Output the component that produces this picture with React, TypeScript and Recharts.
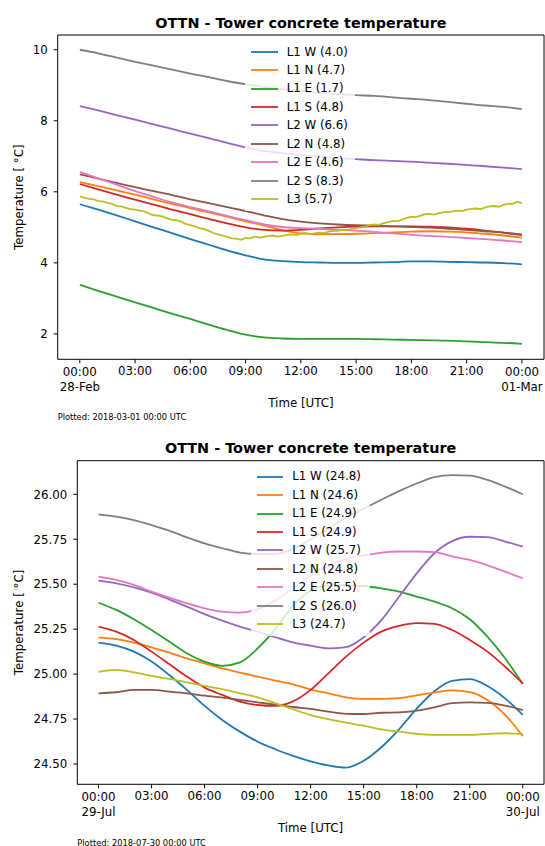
import React from 'react';
import { LineChart, Line, XAxis, YAxis, ReferenceArea, Legend } from 'recharts';

const FONT = '"DejaVu Sans", Verdana, sans-serif';
const COLORS = ['#1f77b4', '#ff7f0e', '#2ca02c', '#d62728', '#9467bd', '#8c564b', '#e377c2', '#7f7f7f', '#bcbd22'];
const SERIES_NAMES = ['L1 W', 'L1 N', 'L1 E', 'L1 S', 'L2 W', 'L2 N', 'L2 E', 'L2 S', 'L3'];
const X_TICKS = [0, 3, 6, 9, 12, 15, 18, 21, 24];
const X_TICK_LABELS = ['00:00', '03:00', '06:00', '09:00', '12:00', '15:00', '18:00', '21:00', '00:00'];
const X_DOMAIN = [-1.2, 25.2];

// ---------- Chart 1: 28 Feb 2018 ----------
const FEB_TITLE = 'OTTN - Tower concrete temperature';
const FEB_DATES = ['28-Feb', '01-Mar'];
const FEB_PLOTTED = 'Plotted: 2018-03-01 00:00 UTC';
const FEB_LEGEND_VALUES = ['4.0', '4.7', '1.7', '4.8', '6.6', '4.8', '4.6', '8.3', '5.7'];
const FEB_Y_TICKS = [2, 4, 6, 8, 10];
const FEB_Y_DOMAIN = [1.285, 10.415];
const FEB_HOURS = [0, 1, 2, 3, 4, 5, 6, 7, 8, 9, 10, 11, 12, 13, 14, 15, 16, 17, 18, 19, 20, 21, 22, 23, 24];
const FEB_L1W = [5.65, 5.50, 5.34, 5.17, 5.00, 4.84, 4.67, 4.51, 4.35, 4.21, 4.10, 4.05, 4.02, 4.01, 4.00, 4.00, 4.01, 4.02, 4.04, 4.04, 4.03, 4.02, 4.01, 3.99, 3.96];
const FEB_L1N = [6.27, 6.16, 6.04, 5.92, 5.79, 5.66, 5.54, 5.42, 5.30, 5.17, 5.05, 4.92, 4.83, 4.81, 4.81, 4.82, 4.84, 4.86, 4.88, 4.89, 4.88, 4.86, 4.82, 4.77, 4.71];
const FEB_L1E = [3.38, 3.21, 3.05, 2.89, 2.73, 2.57, 2.42, 2.26, 2.11, 1.98, 1.90, 1.87, 1.86, 1.86, 1.86, 1.86, 1.85, 1.84, 1.83, 1.82, 1.81, 1.79, 1.77, 1.75, 1.72];
const FEB_L1S = [6.22, 6.07, 5.92, 5.78, 5.64, 5.50, 5.37, 5.24, 5.11, 5.00, 4.93, 4.91, 4.93, 4.97, 5.00, 5.02, 5.03, 5.03, 5.03, 5.02, 5.00, 4.96, 4.91, 4.85, 4.78];
const FEB_L2W = [8.41, 8.29, 8.16, 8.03, 7.90, 7.77, 7.64, 7.51, 7.38, 7.25, 7.15, 7.09, 7.04, 7.00, 6.95, 6.92, 6.89, 6.87, 6.85, 6.82, 6.79, 6.76, 6.72, 6.68, 6.64];
const FEB_L2N = [6.49, 6.37, 6.25, 6.13, 6.02, 5.91, 5.79, 5.68, 5.57, 5.46, 5.34, 5.23, 5.16, 5.11, 5.08, 5.06, 5.05, 5.03, 5.01, 4.99, 4.96, 4.93, 4.89, 4.85, 4.80];
const FEB_L2E = [6.56, 6.38, 6.20, 6.02, 5.86, 5.70, 5.57, 5.45, 5.32, 5.20, 5.08, 5.01, 4.98, 4.96, 4.93, 4.91, 4.87, 4.83, 4.79, 4.76, 4.73, 4.70, 4.67, 4.63, 4.58];
const FEB_L2S = [10.0, 9.90, 9.78, 9.66, 9.55, 9.44, 9.33, 9.23, 9.12, 9.03, 8.95, 8.89, 8.84, 8.79, 8.75, 8.72, 8.70, 8.66, 8.62, 8.58, 8.53, 8.48, 8.43, 8.39, 8.33];
const FEB_L3_HOURS = [
  0, 0.25, 0.5, 0.75, 1, 1.25, 1.5, 1.75, 2, 2.25, 2.5, 2.75, 3, 3.25, 3.5, 3.75, 4, 4.25, 4.5, 4.75,
  5, 5.25, 5.5, 5.75, 6, 6.25, 6.5, 6.75, 7, 7.25, 7.5, 7.75, 8, 8.25, 8.5, 8.75, 9, 9.25, 9.5, 9.75,
  10, 10.25, 10.5, 10.75, 11, 11.25, 11.5, 11.75, 12, 12.25, 12.5, 12.75, 13, 13.25, 13.5, 13.75,
  14, 14.25, 14.5, 14.75, 15, 15.25, 15.5, 15.75, 16, 16.25, 16.5, 16.75, 17, 17.25, 17.5, 17.75,
  18, 18.25, 18.5, 18.75, 19, 19.25, 19.5, 19.75, 20, 20.25, 20.5, 20.75, 21, 21.25, 21.5, 21.75,
  22, 22.25, 22.5, 22.75, 23, 23.25, 23.5, 23.75, 24,
];
const FEB_L3 = [
  5.87, 5.83, 5.80, 5.79, 5.74, 5.73, 5.69, 5.66, 5.60, 5.59, 5.55, 5.51, 5.50, 5.47, 5.45, 5.39, 5.34, 5.33, 5.30, 5.25,
  5.22, 5.20, 5.16, 5.10, 5.06, 5.03, 4.98, 4.95, 4.90, 4.84, 4.80, 4.77, 4.73, 4.69, 4.68, 4.65, 4.70, 4.69, 4.74, 4.71,
  4.73, 4.76, 4.77, 4.74, 4.76, 4.79, 4.80, 4.78, 4.82, 4.84, 4.81, 4.83, 4.85, 4.84, 4.88, 4.90,
  4.90, 4.93, 4.92, 4.96, 4.98, 5.00, 5.02, 5.06, 5.08, 5.07, 5.12, 5.15, 5.18, 5.17, 5.22, 5.27,
  5.30, 5.29, 5.33, 5.37, 5.38, 5.36, 5.40, 5.43, 5.43, 5.45, 5.47, 5.46, 5.50, 5.52, 5.53, 5.51,
  5.56, 5.59, 5.60, 5.58, 5.63, 5.66, 5.66, 5.72, 5.68,
];

// ---------- Chart 2: 29 Jul 2018 ----------
const JUL_TITLE = 'OTTN - Tower concrete temperature';
const JUL_DATES = ['29-Jul', '30-Jul'];
const JUL_PLOTTED = 'Plotted: 2018-07-30 00:00 UTC';
const JUL_LEGEND_VALUES = ['24.8', '24.6', '24.9', '24.9', '25.7', '24.8', '25.5', '26.0', '24.7'];
const JUL_Y_TICKS = [24.5, 24.75, 25.0, 25.25, 25.5, 25.75, 26.0];
const JUL_Y_DOMAIN = [24.387, 26.187];
const JUL_HOURS = [0, 1, 2, 3, 4, 5, 6, 7, 8, 9, 10, 11, 12, 13, 14, 15, 16, 17, 18, 19, 20, 21, 22, 23, 24];
const JUL_L1W = [25.175, 25.158, 25.125, 25.07, 24.995, 24.912, 24.823, 24.745, 24.68, 24.624, 24.582, 24.545, 24.515, 24.492, 24.48, 24.518, 24.593, 24.693, 24.808, 24.905, 24.962, 24.972, 24.934, 24.865, 24.773];
const JUL_L1N = [25.203, 25.195, 25.175, 25.149, 25.119, 25.088, 25.06, 25.032, 25.008, 24.986, 24.964, 24.943, 24.914, 24.893, 24.871, 24.862, 24.862, 24.866, 24.882, 24.897, 24.91, 24.90, 24.856, 24.773, 24.655];
const JUL_L1E = [25.397, 25.357, 25.305, 25.245, 25.181, 25.116, 25.069, 25.046, 25.065, 25.143, 25.25, 25.38, 25.465, 25.492, 25.495, 25.49, 25.477, 25.459, 25.431, 25.403, 25.366, 25.305, 25.208, 25.088, 24.945];
const JUL_L1S = [25.264, 25.236, 25.19, 25.125, 25.056, 24.986, 24.925, 24.884, 24.847, 24.828, 24.823, 24.848, 24.912, 25.004, 25.097, 25.175, 25.236, 25.268, 25.283, 25.279, 25.245, 25.19, 25.125, 25.041, 24.948];
const JUL_L2W = [25.52, 25.505, 25.483, 25.453, 25.416, 25.375, 25.334, 25.297, 25.264, 25.236, 25.205, 25.177, 25.158, 25.143, 25.15, 25.205, 25.30, 25.43, 25.56, 25.672, 25.74, 25.764, 25.762, 25.737, 25.709];
const JUL_L2N = [24.893, 24.899, 24.912, 24.912, 24.903, 24.893, 24.88, 24.869, 24.856, 24.843, 24.83, 24.817, 24.806, 24.791, 24.779, 24.778, 24.785, 24.787, 24.797, 24.815, 24.838, 24.843, 24.84, 24.825, 24.80];
const JUL_L2E = [25.542, 25.524, 25.496, 25.459, 25.425, 25.394, 25.366, 25.347, 25.342, 25.36, 25.41, 25.477, 25.55, 25.605, 25.64, 25.66, 25.676, 25.682, 25.682, 25.678, 25.655, 25.635, 25.605, 25.57, 25.533];
const JUL_L2S = [25.889, 25.876, 25.857, 25.829, 25.798, 25.761, 25.727, 25.70, 25.676, 25.668, 25.668, 25.695, 25.75, 25.81, 25.87, 25.92, 25.97, 26.018, 26.06, 26.095, 26.107, 26.104, 26.08, 26.043, 26.0];
const JUL_L3 = [25.012, 25.023, 25.01, 24.99, 24.973, 24.954, 24.934, 24.916, 24.893, 24.871, 24.838, 24.804, 24.772, 24.749, 24.73, 24.713, 24.693, 24.68, 24.667, 24.662, 24.662, 24.662, 24.668, 24.671, 24.667];

type Pt = { h: number; v: number };
const pts = (hours: number[], vals: number[]): Pt[] => hours.map((h, i) => ({ h, v: vals[i] }));

const FEB_SERIES = [
  pts(FEB_HOURS, FEB_L1W), pts(FEB_HOURS, FEB_L1N), pts(FEB_HOURS, FEB_L1E), pts(FEB_HOURS, FEB_L1S),
  pts(FEB_HOURS, FEB_L2W), pts(FEB_HOURS, FEB_L2N), pts(FEB_HOURS, FEB_L2E), pts(FEB_HOURS, FEB_L2S),
  pts(FEB_L3_HOURS, FEB_L3),
];
const JUL_SERIES = [
  pts(JUL_HOURS, JUL_L1W), pts(JUL_HOURS, JUL_L1N), pts(JUL_HOURS, JUL_L1E), pts(JUL_HOURS, JUL_L1S),
  pts(JUL_HOURS, JUL_L2W), pts(JUL_HOURS, JUL_L2N), pts(JUL_HOURS, JUL_L2E), pts(JUL_HOURS, JUL_L2S),
  pts(JUL_HOURS, JUL_L3),
];

const FS = 11.8;

function makeXTick(dates: string[]) {
  return (props: any) => {
    const { x, y, payload } = props;
    const idx = X_TICKS.indexOf(payload.value);
    const label = X_TICK_LABELS[idx] ?? '';
    const date = idx === 0 ? dates[0] : idx === X_TICKS.length - 1 ? dates[1] : null;
    return (
      <g>
        <text x={x} y={y + (date ? 12.4 : 11.4)} textAnchor="middle" fontFamily={FONT} fontSize={FS} fill="#000">
          {label}
        </text>
        {date && (
          <text x={x} y={y + 27.2} textAnchor="middle" fontFamily={FONT} fontSize={FS} fill="#000">
            {date}
          </text>
        )}
      </g>
    );
  };
}

function makeYTick(fmt: (v: number) => string) {
  return (props: any) => {
    const { x, y, payload } = props;
    return (
      <text x={x} y={y} dy="0.36em" textAnchor="end" fontFamily={FONT} fontSize={FS} fill="#000">
        {fmt(payload.value)}
      </text>
    );
  };
}

type PanelProps = {
  top: number;
  height: number;
  plotLeft: number;
  plotTop: number;
  plotBottom: number;
  series: Pt[][];
  linearIdx: number[];
  yDomain: number[];
  yTicks: number[];
  yFmt: (v: number) => string;
  dates: string[];
  legendValues: string[];
  legend: { left: number; top: number; width: number; padTop: number; padLeft: number; handle: number };
};

function Panel(p: PanelProps) {
  const legendContent = () => (
    <div
      style={{
        width: p.legend.width,
        boxSizing: 'border-box',
        paddingTop: p.legend.padTop,
        paddingBottom: 3,
        paddingLeft: p.legend.padLeft,
        background: 'rgba(255,255,255,0.8)',
        fontFamily: FONT,
        fontSize: FS,
        color: '#000',
      }}
    >
      {SERIES_NAMES.map((n, i) => (
        <div key={n} style={{ height: 18.45, display: 'flex', alignItems: 'center', whiteSpace: 'nowrap' }}>
          <svg width={p.legend.handle} height={4} style={{ display: 'block', flex: 'none' }}>
            <line x1={0} x2={p.legend.handle} y1={2} y2={2} stroke={COLORS[i]} strokeWidth={1.8} />
          </svg>
          <span style={{ marginLeft: 9, lineHeight: '18.45px' }}>{`${n} (${p.legendValues[i]})`}</span>
        </div>
      ))}
    </div>
  );

  return (
    <div style={{ position: 'absolute', left: 0, top: p.top, width: 545, height: p.height }}>
      <LineChart
        width={545}
        height={p.height}
        margin={{ top: p.plotTop, right: 1, left: 0, bottom: p.height - p.plotBottom - 40 }}
      >
        <XAxis
          dataKey="h"
          type="number"
          domain={X_DOMAIN}
          ticks={X_TICKS}
          allowDataOverflow
          height={40}
          axisLine={false}
          tickLine={{ stroke: '#000', strokeWidth: 1 }}
          tickSize={4}
          tickMargin={0}
          tick={makeXTick(p.dates)}
          interval={0}
        />
        <YAxis
          type="number"
          domain={p.yDomain}
          ticks={p.yTicks}
          allowDataOverflow
          width={p.plotLeft}
          axisLine={false}
          tickLine={{ stroke: '#000', strokeWidth: 1 }}
          tickSize={4}
          tickMargin={6}
          tick={makeYTick(p.yFmt)}
          interval={0}
        />
        {p.series.map((d, i) => (
          <Line
            key={SERIES_NAMES[i]}
            data={d}
            dataKey="v"
            name={SERIES_NAMES[i]}
            type={p.linearIdx.includes(i) ? 'linear' : 'monotone'}
            stroke={COLORS[i]}
            strokeWidth={1.8}
            dot={false}
            activeDot={false}
            isAnimationActive={false}
          />
        ))}
        <ReferenceArea
          x1={X_DOMAIN[0]}
          x2={X_DOMAIN[1]}
          y1={p.yDomain[0]}
          y2={p.yDomain[1]}
          fill="none"
          fillOpacity={0}
          stroke="#000"
          strokeWidth={1}
          ifOverflow="visible"
        />
        <Legend
          layout="vertical"
          align="center"
          verticalAlign="middle"
          content={legendContent}
          wrapperStyle={{ left: p.legend.left, top: p.legend.top, width: p.legend.width, height: 'auto' }}
        />
      </LineChart>
    </div>
  );
}

export default function App() {
  const t = { fontFamily: FONT, fill: '#000' } as const;
  return (
    <div style={{ position: 'absolute', left: 0, top: 0, width: 545, height: 846, background: '#fff', overflow: 'hidden' }}>
      <Panel
        top={0}
        height={420}
        plotLeft={57.7}
        plotTop={35}
        plotBottom={359.3}
        series={FEB_SERIES}
        linearIdx={[8]}
        yDomain={FEB_Y_DOMAIN}
        yTicks={FEB_Y_TICKS}
        yFmt={(v) => String(v)}
        dates={FEB_DATES}
        legendValues={FEB_LEGEND_VALUES}
        legend={{ left: 245, top: 41, width: 110, padTop: 1.5, padLeft: 5.7, handle: 27 }}
      />
      <Panel
        top={420}
        height={426}
        plotLeft={77.3}
        plotTop={40.7}
        plotBottom={364.3}
        series={JUL_SERIES}
        linearIdx={[]}
        yDomain={JUL_Y_DOMAIN}
        yTicks={JUL_Y_TICKS}
        yFmt={(v) => v.toFixed(2)}
        dates={JUL_DATES}
        legendValues={JUL_LEGEND_VALUES}
        legend={{ left: 251.2, top: 46.6, width: 119, padTop: 0.9, padLeft: 6, handle: 26 }}
      />
      <svg width={545} height={846} style={{ position: 'absolute', left: 0, top: 0, pointerEvents: 'none' }}>
        <text x={300.9} y={28} textAnchor="middle" fontWeight="bold" fontSize={14.4} {...t}>{FEB_TITLE}</text>
        <text x={300.9} y={407} textAnchor="middle" fontSize={FS} {...t}>Time [UTC]</text>
        <text transform="translate(22.5,197.2) rotate(-90)" textAnchor="middle" fontSize={FS} {...t}>Temperature [ °C]</text>
        <text x={57.7} y={420} fontSize={8.3} {...t}>{FEB_PLOTTED}</text>

        <text x={310.6} y={452.7} textAnchor="middle" fontWeight="bold" fontSize={14.4} {...t}>{JUL_TITLE}</text>
        <text x={310.6} y={832} textAnchor="middle" fontSize={FS} {...t}>Time [UTC]</text>
        <text transform="translate(22.7,622.5) rotate(-90)" textAnchor="middle" fontSize={FS} {...t}>Temperature [ °C]</text>
        <text x={77.3} y={845.5} fontSize={8.3} {...t}>{JUL_PLOTTED}</text>
      </svg>
    </div>
  );
}
